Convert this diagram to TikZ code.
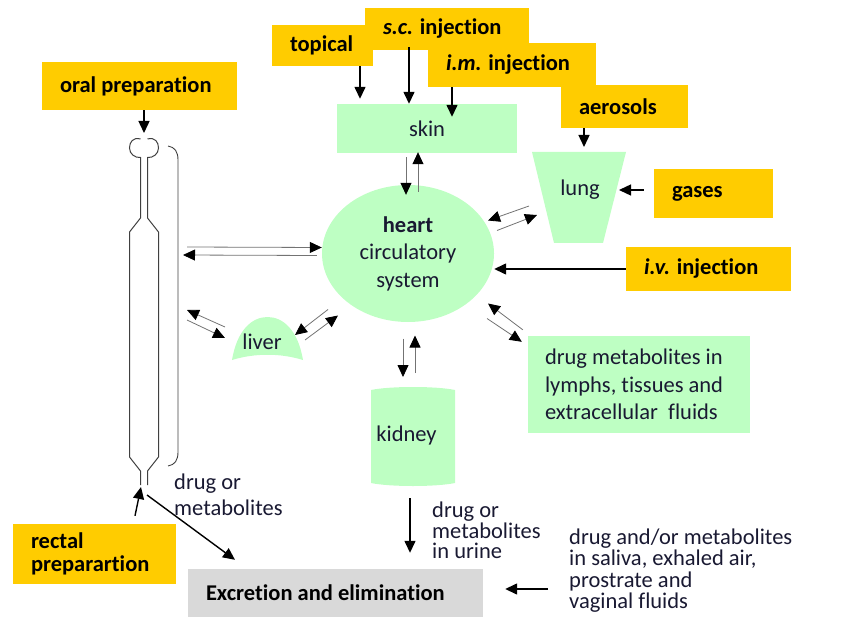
\documentclass[tikz,border=0pt]{standalone}
\usepackage{fontspec}
\setmainfont{Carlito}[Ligatures=NoCommon]
\usetikzlibrary{arrows.meta,calc,shapes.geometric}

\definecolor{routeyellow}{RGB}{255,204,0}
\definecolor{organgreen}{RGB}{190,255,195}
\definecolor{exitgray}{RGB}{217,217,217}
\definecolor{inkblue}{RGB}{25,25,50}

\tikzset{
  route/.style={fill=routeyellow, align=flush left, inner xsep=18pt, inner ysep=0pt, text width=#1,
    font=\fontsize{22.5}{23}\selectfont\bfseries},
  organ/.style={fill=organgreen, inner sep=0pt, text=inkblue, font=\fontsize{22.5}{27.5}\selectfont},
  note/.style={inner sep=0pt, anchor=west, align=flush left, text=inkblue},
  feed/.style={-{Triangle[length=12pt,width=11pt]}, line width=1.4pt},
  swap/.style={-{Triangle[length=12pt,width=11pt,color=black]}, line width=0.8pt, draw=black!55}
}

\begin{document}
\begin{tikzpicture}[x=1pt,y=-1pt]
    \useasboundingbox (0,0) rectangle (842,617);

    % routes of administration
    \node[route=159pt, minimum height=48pt] (oral) at (139.5,86) {oral preparation};
    \node[route=65pt, minimum height=41pt] (topical) at (322.5,45.5) {topical};
    \node[route=128pt, minimum height=42pt] (sc) at (447,29) {\textit{s.c.} injection};
    \node[route=132pt, minimum height=44pt] (im) at (512,65) {\textit{i.m.} injection};
    \node[route=91pt, minimum height=43pt] (aerosols) at (624.5,106.5) {aerosols};
    \node[route=83pt, minimum height=49pt] (gases) at (713.5,193.5) {gases};
    \node[route=129pt, minimum height=44pt] (iv) at (708.5,269) {\textit{i.v.} injection};
    \node[route=127pt, minimum height=60pt] (rectal) at (94.5,554) {rectal\\preparartion};

    % organs
    \node[organ, minimum width=180pt, minimum height=49pt] (skin) at (427,128.5) {skin};
    \fill[organgreen] (532,152) -- (626,152) -- (603,243) -- (554,243) -- cycle;
    \node[organ, fill=none] (lung) at (580,190) {lung};
    \node[organ, ellipse, minimum width=172pt, minimum height=137pt, align=flush center] (heart) at (408,253.5)
        {\textbf{heart}\\circulatory\\system};
    \fill[organgreen] (232,360) .. controls (237,330) and (252,317) .. (267.5,317)
        .. controls (283,317) and (298,330) .. (303,360)
        .. controls (280,353) and (255,353) .. (232,360) -- cycle;
    \node[organ, fill=none] (liver) at (262,342) {liver};
    \fill[organgreen] (371,390) .. controls (390,386) and (436,386) .. (455,390) -- (455,483)
        .. controls (436,487) and (390,487) .. (371,483) -- cycle;
    \node[organ, fill=none] (kidney) at (406.5,435) {kidney};
    \node[organ, text width=188pt, inner xsep=17pt, align=flush left, minimum height=97pt] (metab) at (639,384.5)
        {drug metabolites in\\lymphs, tissues and\\extracellular\ \ fluids};
    \node[route=259pt, minimum height=48pt, fill=exitgray] (excr) at (335.5,593) {Excretion and elimination};

    % gastrointestinal tract
    \draw[black!75, line width=1pt] (140.5,139) .. controls (133,137) and (129.5,142) .. (129.5,148)
        .. controls (129.5,154) and (135,158) .. (140.5,157.5) -- (140.5,218) -- (129.5,232)
        -- (129.5,457) -- (140.5,471) -- (140.5,485);
    \draw[black!75, line width=1pt] (147.5,139) .. controls (155,137) and (158.5,142) .. (158.5,148)
        .. controls (158.5,154) and (153,158) .. (147.5,157.5) -- (147.5,218) -- (158.5,232)
        -- (158.5,457) -- (147.5,471) -- (147.5,485);
    \draw[black!75, line width=0.9pt] (168,146) .. controls (175,147) and (178,152) .. (178,160)
        -- (178,452) .. controls (178,460) and (175,465) .. (168,466);
    \coordinate (mouth) at (144,139);
    \coordinate (gut) at (178,251);
    \coordinate (anus) at (144,485);

    % texts
    \node[note, font=\fontsize{22.5}{26}\selectfont] (gutout) at (174,495) {drug or\\metabolites};
    \node[note, font=\fontsize{22.5}{20.5}\selectfont] (urine) at (432,530.5) {drug or\\metabolites\\in urine};
    \node[note, font=\fontsize{22.5}{21.5}\selectfont] (saliva) at (569,570.5)
        {drug and/or metabolites\\in saliva, exhaled air,\\prostrate and\\vaginal fluids};

    % intake
    \draw[feed] (oral.south -| mouth) -- ($(mouth)+(0,-6)$);
    \draw[feed] ($(topical.south)+(37.5,0)$) -- ($(skin.north)+(-67,-5)$);
    \draw[feed] ($(sc.south)+(-38,-3)$) -- ($(skin.north)+(-18,0)$);
    \draw[feed] ($(im.south)+(-60,0)$) -- ($(skin.north)+(25,13)$);
    \draw[feed] ($(aerosols.south)+(-40.5,0)$) -- ($(lung)+(4,-43)$);
    \draw[feed] ($(gases.west)+(-10,-3.5)$) -- ($(lung)+(39,0)$);
    \draw[feed] (iv.west) -- (iv.west -| heart.east);
    \draw[feed] ($(rectal.north)+(40.5,-8)$) -- ($(anus)+(-3,2)$);

    % exchange with the circulation
    \draw[swap] ($(skin.south)+(-21,4)$) -- ($(heart.north)+(-2,10)$);
    \draw[swap] ($(heart.north)+(10,7)$) -- ($(skin.south)+(-9,-1)$);
    \draw[swap] ($(gut)+(9,-4)$) -- ($(heart.west)+(0,-6)$);
    \draw[swap] ($(heart.west)+(-5,2)$) -- ($(gut)+(5,4)$);
    \draw[swap] ($(liver)+(-37,-15)$) -- ($(gut)+(9,59)$);
    \draw[swap] ($(gut)+(9,69)$) -- ($(liver)+(-37,-4)$);
    \draw[swap] ($(heart)+(-80,56)$) -- ($(liver)+(33,-7)$);
    \draw[swap] ($(liver)+(43,-2)$) -- ($(heart)+(-70,62)$);
    \draw[swap] ($(lung)+(-51,16)$) -- ($(heart)+(80,-33)$);
    \draw[swap] ($(heart)+(89,-23)$) -- ($(lung)+(-43,25)$);
    \draw[swap] ($(heart)+(-5,85)$) -- ($(kidney)+(-3.5,-58)$);
    \draw[swap] ($(kidney)+(8.5,-62)$) -- ($(heart)+(7,82)$);
    \draw[swap] ($(metab.north west)+(-5,-6)$) -- ($(heart)+(80,50)$);
    \draw[swap] ($(heart)+(79,65)$) -- ($(metab.north west)+(-6,6)$);

    % elimination
    \draw[feed] ($(anus)+(3,10)$) -- ($(excr.north)+(-100.5,-9)$);
    \draw[feed] ($(kidney)+(3.5,63)$) -- ($(excr.north)+(74.5,-16)$);
    \draw[feed] ($(saliva.west)+(-21,18.5)$) -- ($(excr.east)+(22,-4)$);
\end{tikzpicture}
\end{document}
